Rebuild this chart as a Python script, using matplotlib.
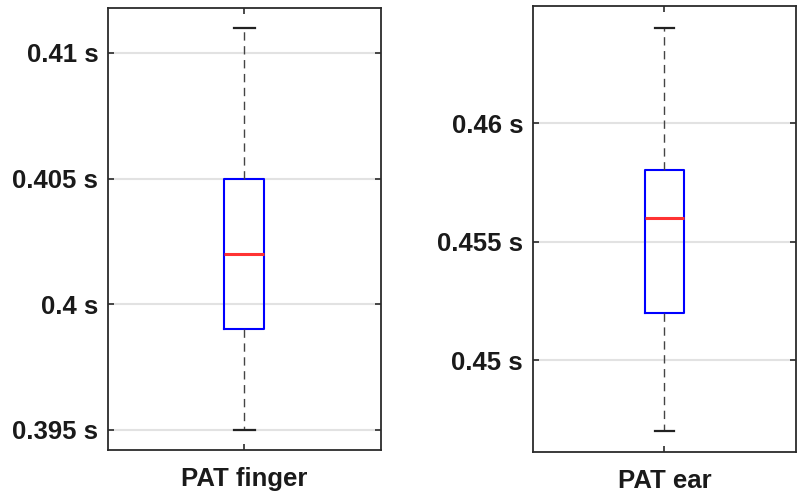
import matplotlib
matplotlib.use("Agg")
import matplotlib.pyplot as plt

# Summary statistics per measurement site (seconds)
labels = ["PAT finger", "PAT ear"]
whisker_low = [0.395, 0.447]
q1 = [0.399, 0.452]
medians = [0.402, 0.456]
q3 = [0.405, 0.458]
whisker_high = [0.411, 0.464]
yticks = [[0.395, 0.400, 0.405, 0.410], [0.450, 0.455, 0.460]]
ytick_labels = [["0.395 s", "0.4 s", "0.405 s", "0.41 s"], ["0.45 s", "0.455 s", "0.46 s"]]
ylims = [(0.3942, 0.41179), (0.44612, 0.46494)]

plt.rcParams["font.family"] = ["Liberation Sans", "DejaVu Sans"]
AXIS_COLOR = "#2b2b2b"

fig = plt.figure(figsize=(8, 4.94), dpi=100)
positions = [
    [0.135, 0.0891, 0.341, 0.8947],
    [0.666, 0.0850, 0.329, 0.9030],
]

for i, rect in enumerate(positions):
    ax = fig.add_axes(rect)
    stats = [{
        "label": labels[i],
        "whislo": whisker_low[i],
        "q1": q1[i],
        "med": medians[i],
        "q3": q3[i],
        "whishi": whisker_high[i],
        "fliers": [],
    }]
    ax.bxp(
        stats,
        positions=[1],
        widths=0.146,
        capwidths=0.075,
        boxprops=dict(color="#0000ff", linewidth=1.5),
        medianprops=dict(color="#ff3333", linewidth=2.2),
        whiskerprops=dict(color="#444444", linewidth=1.0, linestyle=(0, (6, 4))),
        capprops=dict(color="#222222", linewidth=1.6),
        showfliers=False,
    )
    ax.set_xlim(0.5, 1.5)
    ax.set_ylim(*ylims[i])
    ax.set_yticks(yticks[i])
    ax.set_yticklabels(ytick_labels[i])
    ax.set_xticks([1])
    ax.set_xticklabels([labels[i]])
    ax.grid(axis="y", color="#e2e2e2", linewidth=1.5, zorder=0)
    ax.set_axisbelow(True)
    ax.tick_params(axis="both", direction="in", length=4, width=1.2,
                   color=AXIS_COLOR, labelsize=18.5, labelcolor="#1a1a1a")
    ax.tick_params(axis="y", right=True, pad=7)
    ax.tick_params(axis="x", top=True, pad=12)
    for lbl in ax.get_yticklabels() + ax.get_xticklabels():
        lbl.set_fontweight("bold")
    for spine in ax.spines.values():
        spine.set_color(AXIS_COLOR)
        spine.set_linewidth(1.3)

fig.savefig("out.png", dpi=100, facecolor="white")
